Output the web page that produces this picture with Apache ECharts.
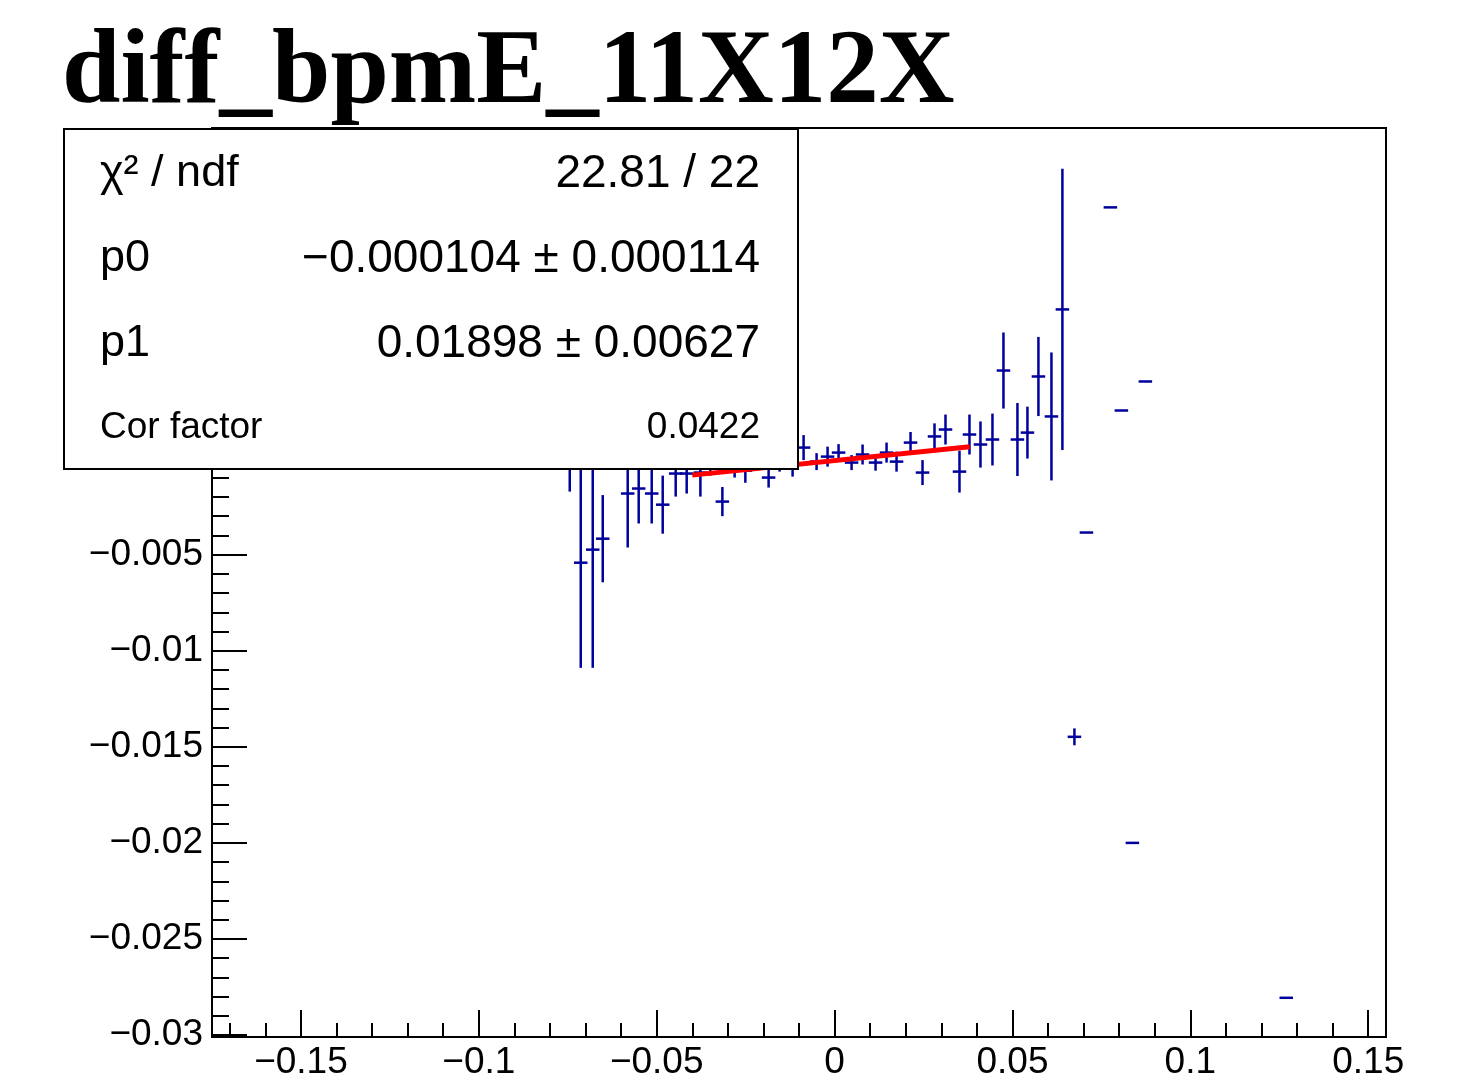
<!DOCTYPE html>
<html><head><meta charset="utf-8">
<script src="https://cdn.jsdelivr.net/npm/echarts@6/dist/echarts.min.js"></script>
<style>html,body{margin:0;padding:0;background:#fff}#c{width:1469px;height:1090px}</style>
</head><body><div id="c"></div>
<script>
// ---- data ----
const xValues = [-0.07444,-0.07135,-0.06798,-0.06517,-0.05815,-0.05506,-0.05140,-0.04831,-0.04466,-0.04157,
  -0.03772,-0.03492,-0.03154,-0.02809,-0.02508,-0.02191,-0.01854,-0.01545,-0.01180,-0.00871,
  -0.00506,-0.00197,0.00112,0.00478,0.00787,0.01152,0.01461,0.01742,0.02135,0.02472,
  0.02809,0.03118,0.03511,0.03792,0.04101,0.04438,0.04747,0.05140,0.05421,0.05730,
  0.06096,0.06404,0.06742,0.07079,0.07753,0.08062,0.08371,0.08736,0.12697];
const yValues = [0.00021,-0.00542,-0.00474,-0.00417,-0.00182,-0.00156,-0.00182,-0.00240,-0.00078,-0.00078,
  -0.00073,-0.00042,-0.00224,-0.00047,-0.00063,-0.00005,-0.00099,-0.00016,-0.00031,0.00057,
  -0.00016,0.00010,0.00031,-0.00021,0.00021,-0.00021,0.00031,-0.00016,0.00083,-0.00073,
  0.00115,0.00151,-0.00068,0.00125,0.00073,0.00099,0.00458,0.00099,0.00135,0.00427,
  0.00219,0.00776,-0.01448,-0.00385,0.01307,0.00250,-0.02000,0.00401,-0.02806];
const yErrors = [0.00193,0.00547,0.00615,0.00227,0.00281,0.00182,0.00156,0.00151,0.00120,0.00104,
  0.00125,0.00047,0.00076,0.00052,0.00063,0.00030,0.00052,0.00052,0.00063,0.00065,
  0.00044,0.00052,0.00044,0.00039,0.00052,0.00042,0.00052,0.00052,0.00055,0.00065,
  0.00068,0.00078,0.00109,0.00104,0.00120,0.00135,0.00198,0.00190,0.00135,0.00206,
  0.00333,0.00732,0.00044,0,0,0,0,0,0];
const fitX = [-0.0400, 0.0380];
const fitY = [-0.000863, 0.000617];

const xMajorTicks = [-0.15,-0.1,-0.05,0,0.05,0.1,0.15];
const yMajorTicks = [-0.03,-0.025,-0.02,-0.015,-0.01,-0.005,0,0.005,0.01,0.015];
const titleText = 'diff_bpmE_11X12X';
const statsLabels = ['\u03c7\u00b2 / ndf','p0','p1','Cor factor'];
const statsValues = ['22.81 / 22','\u22120.000104 \u00b1 0.000114','0.01898 \u00b1 0.00627','0.0422'];

// minor tick positions
const xMinorTicks = [];
for (let i = -17; i <= 15; i++) xMinorTicks.push(+(i * 0.01).toFixed(4));
const yMinorTicks = [];
for (let i = -30; i <= 17; i++) yMinorTicks.push(+(i * 0.001).toFixed(4));

const binHalfWidth = 0.0019;
const blue = '#00009c';
const fmt = v => String(+(+v).toFixed(4)).replace('-', '\u2212');

const chart = echarts.init(document.getElementById('c'), null, {renderer: 'canvas'});
const axisFont = {fontSize: 37, fontFamily: '"Liberation Sans", Arial, sans-serif', color: '#000'};

const rowY = [174, 259, 344, 428];
const statsGraphics = [{
  type: 'rect', z: 100,
  shape: {x: 64, y: 129, width: 734, height: 340},
  style: {fill: '#fff', stroke: '#000', lineWidth: 2}
}];
statsLabels.forEach((t, i) => {
  const fs = i === 3 ? 37 : 45;
  statsGraphics.push({
    type: 'text', z: 101, x: 100, y: rowY[i],
    style: {text: t, font: fs + 'px "Liberation Sans", Arial, sans-serif', fill: '#000',
      align: 'left', textAlign: 'left', verticalAlign: 'middle', textVerticalAlign: 'middle'}
  });
  statsGraphics.push({
    type: 'text', z: 101, x: 760, y: rowY[i],
    style: {text: statsValues[i], font: (i === 3 ? 37 : 46) + 'px "Liberation Sans", Arial, sans-serif', fill: '#000',
      align: 'right', textAlign: 'right', verticalAlign: 'middle', textVerticalAlign: 'middle'}
  });
});

chart.setOption({
  animation: false,
  backgroundColor: '#fff',
  grid: {left: 212, right: 83, top: 128, bottom: 53, show: true, borderColor: '#000', borderWidth: 2, backgroundColor: 'transparent'},
  xAxis: [{
    type: 'value', min: -0.175, max: 0.155, position: 'bottom',
    axisLine: {show: true, onZero: false, lineStyle: {color: '#000', width: 2}},
    axisTick: {show: true, inside: true, length: 27, customValues: xMajorTicks, lineStyle: {color: '#000', width: 2}},
    axisLabel: Object.assign({customValues: xMajorTicks, formatter: fmt, margin: 7, lineHeight: 37}, axisFont),
    splitLine: {show: false}
  }, {
    type: 'value', min: -0.175, max: 0.155, position: 'bottom',
    axisLine: {show: false, onZero: false},
    axisTick: {show: true, inside: true, length: 14, customValues: xMinorTicks, lineStyle: {color: '#000', width: 2}},
    axisLabel: {show: false},
    splitLine: {show: false}
  }],
  yAxis: [{
    type: 'value', min: -0.0301, max: 0.0172, position: 'left',
    axisLine: {show: true, onZero: false, lineStyle: {color: '#000', width: 2}},
    axisTick: {show: true, inside: true, length: 35, customValues: yMajorTicks, lineStyle: {color: '#000', width: 2}},
    axisLabel: Object.assign({customValues: yMajorTicks, formatter: fmt, margin: 9}, axisFont),
    splitLine: {show: false}
  }, {
    type: 'value', min: -0.0301, max: 0.0172, position: 'left',
    axisLine: {show: false, onZero: false},
    axisTick: {show: true, inside: true, length: 17, customValues: yMinorTicks, lineStyle: {color: '#000', width: 2}},
    axisLabel: {show: false},
    splitLine: {show: false}
  }],
  graphic: [{
    type: 'text', z: 100, x: 62, y: 75,
    style: {text: titleText, font: 'bold 105px "Liberation Serif", "Times New Roman", serif', fill: '#000',
      align: 'left', textAlign: 'left', verticalAlign: 'middle', textVerticalAlign: 'middle'}
  }].concat(statsGraphics),
  series: [{
    type: 'custom', xAxisIndex: 0, yAxisIndex: 0, z: 2, clip: true,
    data: xValues.map((x, i) => [x, yValues[i], yErrors[i]]),
    renderItem: function (params, api) {
      const x = api.value(0), y = api.value(1), e = api.value(2);
      const pL = api.coord([x - binHalfWidth, y]);
      const pR = api.coord([x + binHalfWidth, y]);
      const children = [{
        type: 'line', shape: {x1: pL[0], y1: pL[1], x2: pR[0], y2: pR[1]},
        style: {stroke: blue, lineWidth: 2.5}
      }];
      if (e > 0) {
        const pT = api.coord([x, y + e]);
        const pB = api.coord([x, y - e]);
        children.push({
          type: 'line', shape: {x1: pT[0], y1: pT[1], x2: pB[0], y2: pB[1]},
          style: {stroke: blue, lineWidth: 2.5}
        });
      }
      return {type: 'group', children: children};
    }
  }, {
    type: 'line', xAxisIndex: 0, yAxisIndex: 0, z: 3,
    data: fitX.map((x, i) => [x, fitY[i]]),
    symbol: 'none', lineStyle: {color: '#ff0000', width: 5}, silent: true
  }]
});
</script>
</body></html>
